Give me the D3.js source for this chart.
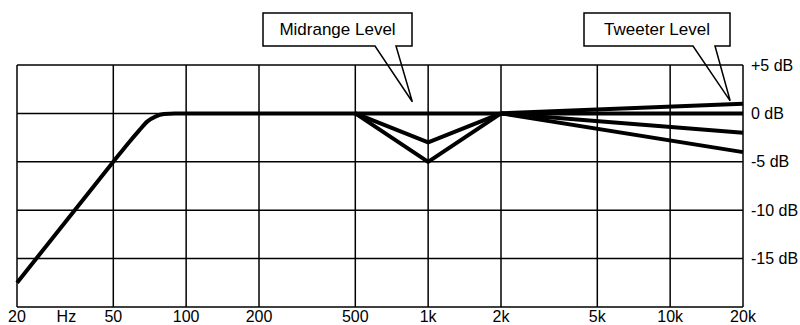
<!DOCTYPE html>
<html>
<head>
<meta charset="utf-8">
<title>Crossover levels</title>
<script src="https://d3js.org/d3.v7.min.js"></script>
<style>
  body { margin: 0; background: #fff; }
  svg text { font-family: "Liberation Sans", Arial, Helvetica, sans-serif; fill: #000; }
  .grid line { stroke: #000; stroke-width: 1.5px; }
  .curve { fill: none; stroke: #000; stroke-width: 4px; stroke-linejoin: round; }
  .callout path { fill: none; stroke: #000; stroke-width: 1.5px; stroke-linejoin: miter; }
</style>
</head>
<body>
<div id="chart"></div>
<script>
// frequency axis (Hz)
var freqTicks  = [20, 50, 100, 200, 500, 1000, 2000, 5000, 10000, 20000];
var freqLabels = ["20", "50", "100", "200", "500", "1k", "2k", "5k", "10k", "20k"];
// level axis (dB)
var dbTicks  = [5, 0, -5, -10, -15];
var dbLabels = ["+5 dB", "0 dB", "-5 dB", "-10 dB", "-15 dB"];

// woofer: low rolloff then flat
var bassFreq = [20, 50, 58, 64, 69, 75, 81, 90, 20000];
var bassDb   = [-17.5, -5, -3.0, -1.75, -0.85, -0.3, -0.07, 0, 0];

// midrange level settings
var midFreq = [500, 1000, 2000];
var midDips = [[0, -3, 0], [0, -5, 0]];

// tweeter level settings
var tweetFreq   = [2000, 20000];
var tweetLevels = [[0, 1], [0, -2], [0, -4]];

// callouts: label and the point they aim at
var calloutText = ["Midrange Level", "Tweeter Level"];
var calloutFreq = [860, 17700];
var calloutDb   = [1.2, 1.3];

var width = 800, height = 325;
var plotLeft = 17, plotRight = 743, plotTop = 65, plotBottom = 307;

var svg = d3.select("#chart").append("svg")
    .attr("width", width)
    .attr("height", height);

var x = d3.scaleLog().domain([20, 20000]).range([plotLeft, plotRight]);
var y = d3.scaleLinear().domain([-20, 5]).range([plotBottom, plotTop]);

// grid
var grid = svg.append("g").attr("class", "grid");
grid.selectAll("line.v")
    .data(freqTicks)
  .enter().append("line")
    .attr("class", "v")
    .attr("x1", function(d){ return x(d); })
    .attr("x2", function(d){ return x(d); })
    .attr("y1", y(5))
    .attr("y2", y(-20));
grid.selectAll("line.h")
    .data(dbTicks.concat([-20]))
  .enter().append("line")
    .attr("class", "h")
    .attr("x1", x(20))
    .attr("x2", x(20000))
    .attr("y1", function(d){ return y(d); })
    .attr("y2", function(d){ return y(d); });

// x labels
svg.append("g").selectAll("text")
    .data(freqTicks)
  .enter().append("text")
    .attr("x", function(d){ return x(d); })
    .attr("y", 322)
    .attr("text-anchor", "middle")
    .style("font-size", "16px")
    .text(function(d, i){ return freqLabels[i]; });
svg.append("text")
    .attr("x", x(32))
    .attr("y", 322)
    .attr("text-anchor", "middle")
    .style("font-size", "16px")
    .text("Hz");

// y labels
svg.append("g").selectAll("text")
    .data(dbTicks)
  .enter().append("text")
    .attr("x", plotRight + 8)
    .attr("y", function(d){ return y(d); })
    .attr("dy", "0.35em")
    .style("font-size", "16px")
    .text(function(d, i){ return dbLabels[i]; });

var line = d3.line()
    .x(function(d){ return x(d[0]); })
    .y(function(d){ return y(d[1]); });

var curves = svg.append("g");

curves.append("path")
    .attr("class", "curve")
    .attr("d", line.curve(d3.curveMonotoneX)(d3.zip(bassFreq, bassDb)));

line.curve(d3.curveLinear);
midDips.forEach(function(lv){
  curves.append("path")
      .attr("class", "curve")
      .attr("d", line(d3.zip(midFreq, lv)));
});
tweetLevels.forEach(function(lv){
  curves.append("path")
      .attr("class", "curve")
      .attr("d", line(d3.zip(tweetFreq, lv)));
});

// callout boxes with pointer
var boxes = [
  { x0: 263, x1: 412, b0: 375, b1: 396 },
  { x0: 584, x1: 730, b0: 693, b1: 715 }
];
var bt = 13, bb = 46;
boxes.forEach(function(b, i){
  var tx = x(calloutFreq[i]), ty = y(calloutDb[i]);
  var p = d3.path();
  p.moveTo(b.b0, bb);
  p.lineTo(b.x0, bb);
  p.lineTo(b.x0, bt);
  p.lineTo(b.x1, bt);
  p.lineTo(b.x1, bb);
  p.lineTo(b.b1, bb);
  p.lineTo(tx, ty);
  p.closePath();
  var g = svg.append("g").attr("class", "callout");
  g.append("path").attr("d", p.toString());
  g.append("text")
      .attr("x", (b.x0 + b.x1) / 2)
      .attr("y", (bt + bb) / 2)
      .attr("dy", "0.35em")
      .attr("text-anchor", "middle")
      .style("font-size", "17px")
      .text(calloutText[i]);
});
</script>
</body>
</html>
